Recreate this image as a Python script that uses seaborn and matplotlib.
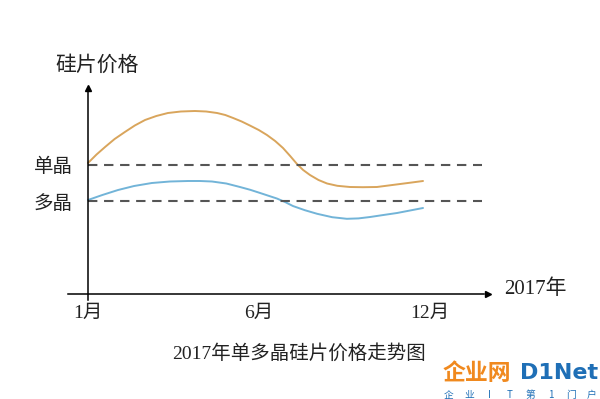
import seaborn as sns
import matplotlib.pyplot as plt
import pandas as pd
import numpy as np

# schematic positions: 0 = 1月, 5 = 6月, 10 = 12月 (evenly spaced on the picture)
mono_x = [0, 0.25, 0.50, 0.78, 1.08, 1.37, 1.67, 2.0, 2.34, 2.72, 3.13, 3.46, 3.78, 4.02, 4.25, 4.50,
          4.74, 5.0, 5.24, 5.48, 5.71, 5.92, 6.12, 6.30, 6.50, 6.75, 7.00, 7.30, 7.67, 8.05, 8.46, 8.80, 9.14, 9.48, 9.81]
mono_y = [13.1, 13.95, 14.7, 15.5, 16.2, 16.85, 17.4, 17.8, 18.1, 18.25, 18.3, 18.25, 18.1, 17.9, 17.6, 17.25,
          16.85, 16.4, 15.9, 15.3, 14.6, 13.8, 13.0, 12.4, 11.9, 11.4, 11.05, 10.82, 10.7, 10.68, 10.7, 10.85, 11.0, 11.15, 11.3]
poly_x = [0, 0.42, 0.88, 1.35, 1.87, 2.40, 2.93, 3.28, 3.63, 4.05, 4.45, 4.75, 5.04, 5.28, 5.53,
          5.77, 6.00, 6.35, 6.71, 7.15, 7.58, 7.92, 8.26, 8.65, 9.05, 9.43, 9.81]
poly_y = [9.4, 9.9, 10.4, 10.8, 11.1, 11.25, 11.3, 11.3, 11.25, 11.05, 10.7, 10.42, 10.1, 9.83, 9.55,
          9.2, 8.8, 8.38, 8.02, 7.68, 7.52, 7.56, 7.7, 7.9, 8.1, 8.35, 8.6]

ref_levels = [12.95, 9.3]
ref_labels = ['单晶', '多晶']
month_pos = [0, 5, 10]
month_labels = ['1月', '6月', '12月']
slogan = ['企', '业', 'I', 'T', '第', '1', '门', '户']

serif_cjk = ['Liberation Serif', 'Noto Sans CJK SC']

sns.set_style('white')
plt.rcParams['font.family'] = ['Noto Sans CJK SC', 'DejaVu Sans']

fig = plt.figure(figsize=(6, 3.99), dpi=100)
ax = fig.add_axes([0, 0, 1, 1])
ax.set_xlim(-88 / 34.15, 512 / 34.15)
ax.set_ylim(-10.5, 29.4)

mono = pd.DataFrame({'x': mono_x, 'y': mono_y})
poly = pd.DataFrame({'x': poly_x, 'y': poly_y})
sns.lineplot(data=mono, x='x', y='y', ax=ax, color='#d9a55c', lw=1.4, sort=False)
sns.lineplot(data=poly, x='x', y='y', ax=ax, color='#72b4d8', lw=1.4, sort=False)

for lv in ref_levels:
    ax.plot([0, 11.55], [lv, lv], color='#555555', lw=1.5, dashes=(4.5, 3.2))

# axes as arrows
for side in ['top', 'right']:
    ax.spines[side].set_visible(False)
ax.spines['left'].set_position(('data', 0))
ax.spines['bottom'].set_position(('data', 0))
ax.spines['left'].set_bounds(-0.6, 20.5)
ax.spines['bottom'].set_bounds(-0.6, 11.6)
for side in ['left', 'bottom']:
    ax.spines[side].set_color('black')
    ax.spines[side].set_linewidth(1.1)
ax.plot(0, 20.6, marker='^', color='black', ms=4.5, clip_on=False)
ax.plot(11.7, 0, marker='>', color='black', ms=4.5, clip_on=False)

ax.set_xticks(month_pos, month_labels)
ax.set_yticks(ref_levels, ref_labels)
ax.tick_params(axis='x', direction='in', length=5, width=1, color='black', pad=8,
               labelsize=14, labelcolor='#222222')
ax.tick_params(axis='y', length=0, pad=11, labelsize=14, labelcolor='#222222')
for lab in ax.get_xticklabels():
    lab.set_family(serif_cjk)
ax.set_xlabel('')
ax.set_ylabel('')
ax.grid(False)

ax.text(0.26, 22.9, '硅片价格', fontsize=15, color='#222222', ha='center', va='center')
ax.text(13.09, 0.5, '2017年', fontsize=15, color='#222222', ha='center', va='center',
        family=serif_cjk)
ax.text(6.18, -5.9, '2017年单多晶硅片价格走势图', fontsize=14, color='#222222',
        ha='center', va='center', family=serif_cjk)

# watermark
ax.text(10.37, -7.9, '企业网', fontsize=16.5, fontweight='bold', color='#f0891e',
        ha='left', va='center')
ax.text(14.93, -7.9, 'D1Net', fontsize=16, fontweight='bold', color='#1f6fb6',
        ha='right', va='center', family=['DejaVu Sans'])
for ch, xp in zip(slogan, np.linspace(10.55, 14.75, len(slogan))):
    ax.text(xp, -10.1, ch, fontsize=7, color='#1f6fb6', ha='center', va='center')

fig.savefig('out.png', dpi=100)
